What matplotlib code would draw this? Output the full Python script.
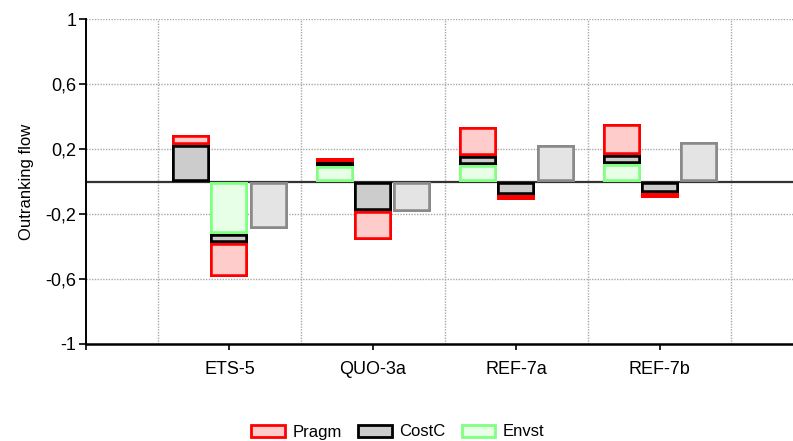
import matplotlib
matplotlib.use('Agg')
import matplotlib.pyplot as plt
import numpy as np

plt.rcParams['font.family'] = ['Liberation Sans', 'DejaVu Sans']

alternatives = ['ETS-5', 'QUO-3a', 'REF-7a', 'REF-7b']
criteria = ['Pragm', 'CostC', 'Envst']

# positive flow contributions per criterion
pragm_pos = [0.06, 0.029, 0.178, 0.19]
costc_pos = [0.227, 0.025, 0.055, 0.055]
envst_pos = [0.0, 0.093, 0.10, 0.11]

# negative flow contributions per criterion
pragm_neg = [0.205, 0.18, 0.03, 0.032]
costc_neg = [0.06, 0.178, 0.08, 0.07]
envst_neg = [0.32, 0.005, 0.005, 0.0]

# net flow
net_flow = [-0.29, -0.19, 0.225, 0.245]

yticks = [-1, -0.6, -0.2, 0.2, 0.6, 1]

styles = {
    'Pragm': dict(facecolor='#FFCCCC', edgecolor='#FF0000'),
    'CostC': dict(facecolor='#CCCCCC', edgecolor='#000000'),
    'Envst': dict(facecolor='#E6FFE6', edgecolor='#80FF80'),
}
net_style = dict(facecolor='#E4E4E4', edgecolor='#8A8A8A')


def inner_edges(bars):
    # clip each rectangle to itself so the border sits inside the box
    for p in bars:
        p.set_clip_path(p)


fig = plt.figure(figsize=(7.93, 4.41), dpi=100)
ax = fig.add_axes([86 / 793, 1 - 344 / 441, 1 - 86 / 793, (344 - 19) / 441])

x = np.arange(1, len(alternatives) + 1)
w = 0.265

# grid and zero line behind the bars
for yt in yticks:
    ax.axhline(yt, color='#A8A8A8', lw=1, ls=(0, (1, 1)), zorder=0)
for xg in np.arange(0.5, len(alternatives) + 1, 1.0):
    ax.axvline(xg, color='#A8A8A8', lw=1, ls=(0, (1, 1)), zorder=0)
ax.axhline(0, color='#333333', lw=1.6, zorder=1)

pos = {'Envst': envst_pos, 'CostC': costc_pos, 'Pragm': pragm_pos}
neg = {'Envst': envst_neg, 'CostC': costc_neg, 'Pragm': pragm_neg}

# stack from zero outward: Envst, CostC, Pragm
bottom_p = np.zeros(len(alternatives))
bottom_n = np.zeros(len(alternatives))
for c in ['Envst', 'CostC', 'Pragm']:
    vp = np.array(pos[c])
    vn = -np.array(neg[c])
    b1 = ax.bar(x - w, vp, w, bottom=bottom_p, linewidth=4, zorder=2, **styles[c])
    b2 = ax.bar(x, vn, w, bottom=bottom_n, linewidth=4, zorder=2, **styles[c])
    inner_edges(b1)
    inner_edges(b2)
    bottom_p += vp
    bottom_n += vn

b3 = ax.bar(x + w + 0.01, net_flow, w, linewidth=4, zorder=2, **net_style)
inner_edges(b3)

ax.set_xlim(0, 4.93)
ax.set_ylim(-1, 1)
ax.set_yticks(yticks)
ax.set_yticklabels([('%g' % v).replace('.', ',') for v in yticks])
ax.set_xticks(x)
ax.set_xticklabels(alternatives)
ax.set_xticks([0], minor=True)
ax.tick_params(axis='y', labelsize=13, length=5, width=1.2, pad=2)
ax.tick_params(axis='x', which='both', labelsize=13, length=4, width=1.2, pad=8)

for s in ['top', 'right']:
    ax.spines[s].set_visible(False)
ax.spines['left'].set_linewidth(1.4)
ax.spines['bottom'].set_linewidth(1.8)

ax.set_ylabel('Outranking flow', fontsize=12, labelpad=8)

handles = [plt.Rectangle((0, 0), 1, 1, linewidth=2, **styles[c]) for c in criteria]
fig.legend(handles, criteria, loc='center', bbox_to_anchor=(398 / 793, 1 - 432 / 441),
           ncol=3, frameon=False, fontsize=12, handlelength=2.0, handleheight=0.75,
           handletextpad=0.45, columnspacing=1.0)

fig.savefig('out.png', dpi=100)
